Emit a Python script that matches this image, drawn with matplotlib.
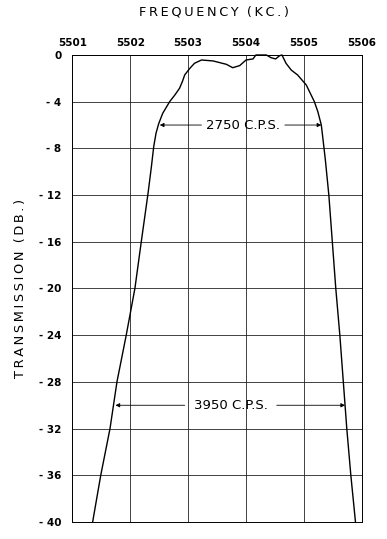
import matplotlib.pyplot as plt

# frequency (kc) and transmission (db)
freq = [5501.35, 5501.49, 5501.65, 5501.77, 5501.93, 5502.08, 5502.19, 5502.307,
        5502.365, 5502.405, 5502.445, 5502.49, 5502.56, 5502.68, 5502.77, 5502.85,
        5502.90, 5502.94, 5503.03, 5503.11, 5503.23, 5503.43, 5503.66, 5503.77,
        5503.89, 5504.00, 5504.12, 5504.17, 5504.35, 5504.43, 5504.51, 5504.58,
        5504.62, 5504.69, 5504.78, 5504.89, 5505.04, 5505.18, 5505.24, 5505.30,
        5505.34, 5505.37, 5505.43, 5505.49, 5505.55, 5505.62, 5505.68, 5505.74,
        5505.81, 5505.89]
db = [-40, -36, -32, -28, -24, -20, -16, -11.85,
      -9.57, -7.85, -6.7, -5.9, -5.0, -4.0, -3.43, -2.86,
      -2.28, -1.71, -1.14, -0.71, -0.43, -0.51, -0.8, -1.09,
      -0.91, -0.43, -0.34, 0, 0, -0.23, -0.34, -0.06,
      0, -0.71, -1.29, -1.71, -2.57, -4.0, -4.86, -6.0,
      -7.7, -9, -12, -16, -20, -24, -28, -32,
      -36, -40]

xticks = [5501, 5502, 5503, 5504, 5505, 5506]
yticks = [0, -4, -8, -12, -16, -20, -24, -28, -32, -36, -40]
ylabels = ["0"] + ["- %d" % -v for v in yticks[1:]]

# bandwidth markers: (level, left, right, text, gap left, gap right)
bw_3 = (-6, 5502.51, 5505.30, "2750 C.P.S.", 5503.23, 5504.67)
bw_30 = (-30, 5501.745, 5505.71, "3950 C.P.S.", 5502.94, 5504.53)

fig = plt.figure(figsize=(3.87, 5.39), dpi=100)
ax = fig.add_axes([0.187, 0.0315, 0.748, 0.8665])

ax.plot(freq, db, color="black", lw=1.0, clip_on=False, zorder=3)

ax.set_xlim(5501, 5506)
ax.set_ylim(-40, 0)
ax.set_xticks(xticks)
ax.set_xticklabels([str(v) for v in xticks], fontsize=7.5, fontweight="bold")
ax.set_yticks(yticks)
ax.set_yticklabels(ylabels, fontsize=7.5, fontweight="bold")
ax.xaxis.tick_top()
ax.tick_params(axis="x", length=0, pad=5)
ax.tick_params(axis="y", length=0, pad=8)
ax.grid(True, color="#222222", lw=0.6)
for sp in ax.spines.values():
    sp.set_linewidth(0.7)

for lvl, left, right, txt, gl, gr in [bw_3, bw_30]:
    ax.annotate("", xy=(left, lvl), xytext=(gl, lvl),
                arrowprops=dict(arrowstyle="-|>", color="black", lw=0.6,
                                mutation_scale=6, shrinkA=0, shrinkB=0))
    ax.annotate("", xy=(right, lvl), xytext=(gr, lvl),
                arrowprops=dict(arrowstyle="-|>", color="black", lw=0.6,
                                mutation_scale=6, shrinkA=0, shrinkB=0))
    ax.text((gl + gr) / 2, lvl, txt, ha="center", va="center", fontsize=9.5)

ts = "\u2009"
fig.text(0.553, 0.978, ts.join("FREQUENCY") + "  " + ts.join("(KC.)"),
         ha="center", va="center", fontsize=9.3)
fig.text(0.052, 0.464, ts.join("TRANSMISSION") + "  " + ts.join("(DB.)"),
         ha="center", va="center", rotation=90, fontsize=9.3)

fig.savefig("out.png", dpi=100)
